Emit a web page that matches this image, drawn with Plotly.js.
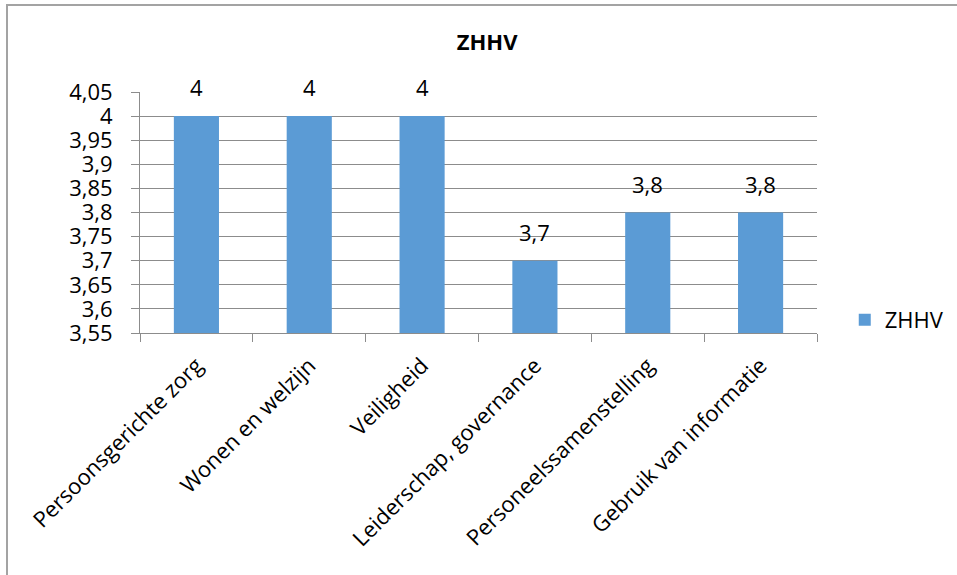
<!DOCTYPE html>
<html>
<head>
<meta charset="utf-8">
<script src="https://cdn.plot.ly/plotly-3.0.1.min.js"></script>
<style>
html,body{margin:0;padding:0;background:#fff;}
#wrap{position:relative;width:957px;height:575px;overflow:hidden;}
#chart{width:957px;height:575px;}
#frame{position:absolute;left:6px;top:4px;width:1000px;height:700px;border-top:2px solid #a3a3a3;border-left:2px solid #a3a3a3;pointer-events:none;}
</style>
</head>
<body>
<div id="wrap"><div id="chart"></div><div id="frame"></div></div>
<script>
const categories = ["Persoonsgerichte zorg", "Wonen en welzijn", "Veiligheid", "Leiderschap, governance", "Personeelssamenstelling", "Gebruik van informatie"];
const values = [4, 4, 4, 3.7, 3.8, 3.8];
const seriesName = "ZHHV";
const chartTitle = "ZHHV";

const FONT = "Open Sans, Noto Sans, sans-serif";
const GRID = "#8c8c8c";

const trace = {
  type: "bar",
  x: categories,
  y: values,
  name: seriesName,
  marker: {color: "#5b9bd5"},
  width: 0.4,
  showlegend: true,
  hoverinfo: "skip"
};

const annotations = categories.map((c, i) => ({
  x: c, y: values[i], xref: "x", yref: "y",
  text: String(values[i]).replace(".", ","),
  showarrow: false, yanchor: "bottom", yshift: 12,
  font: {family: FONT, size: 22, color: "#000"}
}));

const layout = {
  width: 957, height: 575,
  margin: {l: 140, r: 140, t: 92, b: 242, pad: 0, autoexpand: false},
  paper_bgcolor: "#fff", plot_bgcolor: "#fff",
  separators: ",.",
  font: {family: FONT, color: "#000"},
  title: {text: "<b>" + chartTitle + "</b>", x: 0.509, xref: "container", y: 0.927, yref: "container", yanchor: "middle", xanchor: "center",
          font: {family: FONT, size: 22, color: "#000"}},
  xaxis: {
    type: "category",
    automargin: false,
    showgrid: false, zeroline: false,
    showline: true, linecolor: GRID, linewidth: 1,
    ticks: "outside", tickson: "boundaries", ticklen: 8, tickcolor: GRID, tickwidth: 1,
    tickangle: -45,
    ticklabelstandoff: 10,
    tickfont: {family: FONT, size: 22, color: "#000"},
    fixedrange: true
  },
  yaxis: {
    automargin: false,
    range: [3.55, 4.05], dtick: 0.05, tick0: 3.55,
    showgrid: true, gridcolor: GRID, gridwidth: 1,
    zeroline: false,
    showline: true, linecolor: GRID, linewidth: 1,
    ticks: "outside", ticklen: 8, tickcolor: GRID, tickwidth: 1,
    ticklabelstandoff: 14,
    tickfont: {family: FONT, size: 22, color: "#000"},
    fixedrange: true
  },
  legend: {x: 1.041, xanchor: "left", y: 0.054, yanchor: "middle",
           font: {family: FONT, size: 22, color: "#000"}, bgcolor: "rgba(0,0,0,0)", itemwidth: 30},
  bargap: 0.6,
  annotations: annotations
};

Plotly.newPlot("chart", [trace], layout, {displayModeBar: false, staticPlot: true});
</script>
</body>
</html>
